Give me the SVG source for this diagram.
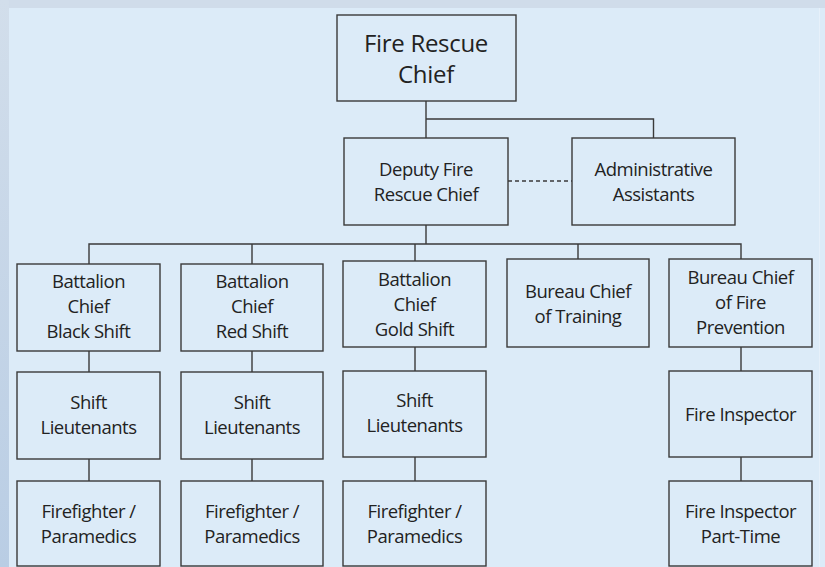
<svg xmlns="http://www.w3.org/2000/svg" width="825" height="567" viewBox="0 0 825 567">
<defs>
<linearGradient id="strip" x1="0" y1="0" x2="0" y2="1">
<stop offset="0" stop-color="#d2deeb"/>
<stop offset="1" stop-color="#b9cde4"/>
</linearGradient>
<style>
.box{fill:#dcebf8;stroke:#3a3a3a;stroke-width:1.4}
.t{font-family:"Open Sans","Noto Sans",sans-serif;font-size:18.5px;fill:#222;text-anchor:middle;letter-spacing:-0.5px}
.big{font-size:24px;letter-spacing:-0.3px}
.c{fill:none;stroke:#3a3a3a;stroke-width:1.4}
.d{stroke-dasharray:4 3}
</style>
</defs>
<rect x="0" y="0" width="825" height="567" fill="#d0dcea"/>
<rect x="0" y="0" width="9" height="567" fill="url(#strip)"/>
<rect x="9" y="8" width="816" height="559" fill="#dcebf8"/>
<line x1="819.5" y1="8" x2="819.5" y2="567" stroke="#e6f0fa" stroke-width="1"/>

<g id="connectors">
<path class="c" d="M426 101V138M426 119H653.5V138"/>
<path class="c d" d="M508 181H572"/>
<path class="c" d="M426 225V244M89 264V244H741V259M252 244V264M415 244V261M578 244V259"/>
<path class="c" d="M89 351V372M89 459V481M252 351V372M252 459V481M415 347V371M415 457V481M741 347V371M741 457V481"/>
</g>

<g id="chief"><rect class="box" x="337" y="15" width="179" height="86"/>
<text class="t big" x="426" y="52">Fire Rescue</text><text class="t big" x="426" y="83">Chief</text></g>
<g id="deputy"><rect class="box" x="344" y="138" width="164" height="87"/>
<text class="t" x="426" y="176">Deputy Fire</text><text class="t" x="426" y="201">Rescue Chief</text></g>
<g id="admin"><rect class="box" x="572" y="138" width="163" height="87"/>
<text class="t" x="653.5" y="176">Administrative</text><text class="t" x="653.5" y="201">Assistants</text></g>

<g id="bc-black"><rect class="box" x="17" y="264" width="143" height="87"/>
<text class="t" x="88.5" y="288">Battalion</text><text class="t" x="88.5" y="313">Chief</text><text class="t" x="88.5" y="338">Black Shift</text></g>
<g id="bc-red"><rect class="box" x="181" y="264" width="142" height="87"/>
<text class="t" x="252" y="288">Battalion</text><text class="t" x="252" y="313">Chief</text><text class="t" x="252" y="338">Red Shift</text></g>
<g id="bc-gold"><rect class="box" x="343" y="261" width="143" height="86"/>
<text class="t" x="414.5" y="286">Battalion</text><text class="t" x="414.5" y="311">Chief</text><text class="t" x="414.5" y="336">Gold Shift</text></g>
<g id="training"><rect class="box" x="507" y="259" width="142" height="88"/>
<text class="t" x="578" y="298">Bureau Chief</text><text class="t" x="578" y="323">of Training</text></g>
<g id="prevention"><rect class="box" x="669" y="259" width="143" height="88"/>
<text class="t" x="740.5" y="284">Bureau Chief</text><text class="t" x="740.5" y="309">of Fire</text><text class="t" x="740.5" y="334">Prevention</text></g>

<g id="lt-black"><rect class="box" x="17" y="372" width="143" height="87"/>
<text class="t" x="88.5" y="409">Shift</text><text class="t" x="88.5" y="434">Lieutenants</text></g>
<g id="lt-red"><rect class="box" x="181" y="372" width="142" height="87"/>
<text class="t" x="252" y="409">Shift</text><text class="t" x="252" y="434">Lieutenants</text></g>
<g id="lt-gold"><rect class="box" x="343" y="371" width="143" height="86"/>
<text class="t" x="414.5" y="407">Shift</text><text class="t" x="414.5" y="432">Lieutenants</text></g>
<g id="inspector"><rect class="box" x="669" y="371" width="143" height="86"/>
<text class="t" x="740.5" y="421">Fire Inspector</text></g>

<g id="ff-black"><rect class="box" x="17" y="481" width="143" height="85"/>
<text class="t" x="88.5" y="518">Firefighter /</text><text class="t" x="88.5" y="543">Paramedics</text></g>
<g id="ff-red"><rect class="box" x="181" y="481" width="142" height="85"/>
<text class="t" x="252" y="518">Firefighter /</text><text class="t" x="252" y="543">Paramedics</text></g>
<g id="ff-gold"><rect class="box" x="343" y="481" width="143" height="85"/>
<text class="t" x="414.5" y="518">Firefighter /</text><text class="t" x="414.5" y="543">Paramedics</text></g>
<g id="inspector-pt"><rect class="box" x="669" y="481" width="143" height="85"/>
<text class="t" x="740.5" y="518">Fire Inspector</text><text class="t" x="740.5" y="543">Part-Time</text></g>
</svg>
